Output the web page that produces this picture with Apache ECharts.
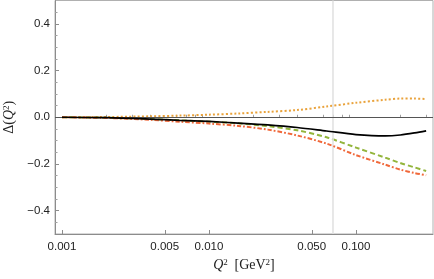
<!DOCTYPE html>
<html>
<head>
<meta charset="utf-8">
<script src="https://cdn.jsdelivr.net/npm/echarts@6/dist/echarts.min.js"></script>
<style>
html,body{margin:0;padding:0;background:#fff;}
#chart{width:434px;height:279px;}
</style>
</head>
<body>
<div id="chart"></div>
<script>
// Q^2 sample points [GeV^2]
const q2 = [0.001, 0.002, 0.004, 0.0063, 0.01, 0.0158, 0.0251, 0.0398, 0.0631, 0.1, 0.158, 0.2, 0.251, 0.3];
// Δ(Q^2) curves
const blackSolid  = [0, -0.002, -0.008, -0.013, -0.018, -0.025, -0.033, -0.044, -0.059, -0.074, -0.080, -0.076, -0.067, -0.058];
const greenDashed = [0, -0.002, -0.008, -0.013, -0.019, -0.026, -0.038, -0.056, -0.086, -0.130, -0.173, -0.196, -0.215, -0.230];
const redDashDot  = [0, -0.003, -0.011, -0.019, -0.027, -0.037, -0.053, -0.078, -0.113, -0.162, -0.203, -0.224, -0.239, -0.248];
const orangeDot   = [0, 0.001, 0.004, 0.007, 0.011, 0.016, 0.023, 0.031, 0.046, 0.062, 0.075, 0.080, 0.080, 0.078];

// axis ranges and ticks
const xMin = 0.000896, xMax = 0.334;
const xMajorTicks = [0.001, 0.005, 0.01, 0.05, 0.1];
const xMinorTicks = [0.002, 0.003, 0.004, 0.006, 0.007, 0.008, 0.009, 0.02, 0.03, 0.04, 0.06, 0.07, 0.08, 0.09, 0.2, 0.3];
const yMin = -0.5, yMax = 0.5;
const yMajorTicks = [-0.4, -0.2, 0, 0.2, 0.4];
const yMinorTicks = [-0.45, -0.35, -0.3, -0.25, -0.15, -0.1, -0.05, 0.05, 0.1, 0.15, 0.25, 0.3, 0.35, 0.45];
const refLineQ2 = 0.0695;

const L = Math.log10;
function pairs(ys){ return q2.map((q,i)=>[L(q), ys[i]]); }

const chart = echarts.init(document.getElementById('chart'), null, {renderer:'canvas'});
const labelFont = {fontFamily:'Liberation Sans, Arial, sans-serif', fontSize:11.5, color:'#222'};
const serif = 'Liberation Serif, Times New Roman, serif';

function lineSeries(ys, color, type, width, z){
  return {
    type:'line', data:pairs(ys), showSymbol:false, symbol:'none',
    smooth:0.3, z:z,
    lineStyle:{color:color, width:width, type:type, cap:'butt'}
  };
}

const series = [
  Object.assign(lineSeries(orangeDot, '#e9a23b', [2,2.2], 2, 3), {
    markLine:{silent:true, symbol:'none', label:{show:false}, animation:false,
      data:[
        {xAxis:L(refLineQ2), lineStyle:{color:'#e2e2e2', width:1.6, type:'solid'}},
        {yAxis:0, lineStyle:{color:'#555', width:1, type:'solid'}}
      ]}
  }),
  lineSeries(greenDashed, '#93b53c', [5,3], 2, 4),
  lineSeries(redDashDot, '#f0683a', [4.5,2,1.8,2], 2, 5),
  lineSeries(blackSolid, '#000000', 'solid', 1.7, 6)
];

const richName = {
  q:{fontFamily:serif, fontStyle:'italic', fontSize:14, color:'#222'},
  t:{fontFamily:serif, fontSize:14, color:'#222'},
  s:{fontFamily:serif, fontSize:9, color:'#222', verticalAlign:'top', padding:[0,0,6,0]}
};

chart.setOption({
  animation:false,
  grid:{left:55, right:1, top:0.5, bottom:45, show:true, borderColor:'#b0b0b0', borderWidth:1,
        containLabel:false, outerBoundsMode:'none'},
  xAxis:[{
    type:'value', min:L(xMin), max:L(xMax),
    splitLine:{show:false},
    axisLine:{show:true, onZero:false, lineStyle:{color:'#8c8c8c', width:1}},
    axisTick:{show:true, inside:true, length:4, customValues:xMajorTicks.map(L), lineStyle:{color:'#8c8c8c'}},
    axisLabel:{show:true, margin:7, customValues:xMajorTicks.map(L), formatter:v=>Math.pow(10,v).toFixed(3), ...labelFont},
    name:'{q|Q}{s|2}  {t|[GeV}{s|2}{t|]}',
    nameLocation:'middle', nameGap:22,
    nameTextStyle:{rich:richName}
  },{
    type:'value', min:L(xMin), max:L(xMax), position:'bottom',
    splitLine:{show:false}, axisLine:{show:false},
    axisTick:{show:true, inside:true, length:2.5, customValues:xMinorTicks.map(L), lineStyle:{color:'#a0a0a0'}},
    axisLabel:{show:false}
  }],
  yAxis:[{
    type:'value', min:yMin, max:yMax,
    splitLine:{show:false},
    axisLine:{show:true, onZero:false, lineStyle:{color:'#8c8c8c', width:1}},
    axisTick:{show:true, inside:true, length:4, customValues:yMajorTicks, lineStyle:{color:'#8c8c8c'}},
    axisLabel:{show:true, margin:5, customValues:yMajorTicks, formatter:v=>v.toFixed(1).replace('-','\u2212'), ...labelFont},
    name:'{t|Δ(}{q|Q}{s|2}{t|)}',
    nameLocation:'middle', nameGap:37, nameRotate:90,
    nameTextStyle:{rich:richName}
  },{
    type:'value', min:yMin, max:yMax, position:'left',
    splitLine:{show:false}, axisLine:{show:false},
    axisTick:{show:true, inside:true, length:2.5, customValues:yMinorTicks, lineStyle:{color:'#a0a0a0'}},
    axisLabel:{show:false}
  }],
  series:series
});
</script>
</body>
</html>
